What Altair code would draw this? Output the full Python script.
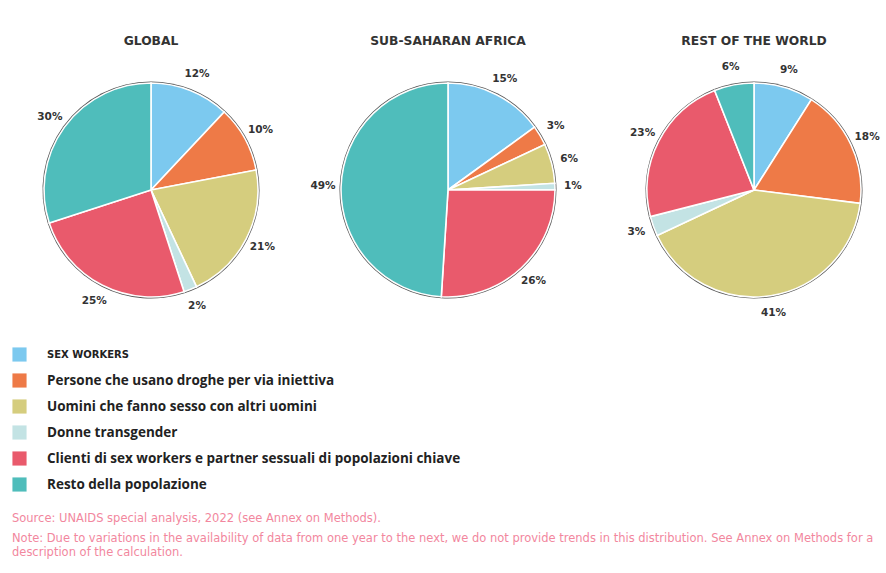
import altair as alt
import pandas as pd

regions = ["GLOBAL", "SUB-SAHARAN AFRICA", "REST OF THE WORLD"]
categories = [
    "SEX WORKERS",
    "Persone che usano droghe per via iniettiva",
    "Uomini che fanno sesso con altri uomini",
    "Donne transgender",
    "Clienti di sex workers e partner sessuali di popolazioni chiave",
    "Resto della popolazione",
]
colors = ["#7cc9ef", "#ee7a47", "#d5cd7e", "#c3e3e4", "#e95a6c", "#4fbdbb"]
global_vals = [12, 10, 21, 2, 25, 30]
ssa_vals = [15, 3, 6, 1, 26, 49]
row_vals = [9, 18, 41, 3, 23, 6]

source_lines = [
    "Source: UNAIDS special analysis, 2022 (see Annex on Methods).",
    "Note: Due to variations in the availability of data from one year to the next, we do not provide trends in this distribution. See Annex on Methods for a",
    "description of the calculation.",
]

rows = []
for reg, vals in zip(regions, [global_vals, ssa_vals, row_vals]):
    for i, (c, v) in enumerate(zip(categories, vals)):
        rows.append({"region": reg, "category": c, "value": v, "idx": i})
df = pd.DataFrame(rows)

centers_x = [151, 448, 754]
center_y = 190
R = 107

color_scale = alt.Scale(domain=categories, range=colors)
legend = alt.Legend(
    title=None,
    orient="none",
    legendX=12,
    legendY=347,
    symbolType="square",
    symbolSize=200,
    symbolStrokeWidth=0,
    symbolOpacity=1,
    rowPadding=11,
    labelOffset=20,
    labelFont=alt.ExprRef("datum.label === 'SEX WORKERS' ? 'DejaVu Sans' : 'Open Sans'"),
    labelFontSize=alt.ExprRef("datum.label === 'SEX WORKERS' ? 10 : 13.5"),
    labelFontWeight="bold",
    labelColor="#222222",
    labelLimit=600,
)

layers = []
for k, reg in enumerate(regions):
    cx = centers_x[k]
    base = alt.Chart(df).transform_filter(alt.datum.region == reg)
    theta = alt.Theta("value:Q", stack=True)
    order = alt.Order("idx:Q", sort="ascending")
    outline = base.mark_arc(radius=R + 1.5, fill="#555555").encode(
        theta=theta, order=order, x=alt.value(cx), y=alt.value(center_y)
    )
    slices = base.mark_arc(radius=R, stroke="white", strokeWidth=1.6).encode(
        theta=theta,
        order=order,
        color=alt.Color("category:N", scale=color_scale, legend=legend),
        x=alt.value(cx),
        y=alt.value(center_y),
    )
    labels = (
        base.transform_calculate(lab="datum.value + '%'")
        .mark_text(radius=R + 18, font="DejaVu Sans", fontSize=10.5, fontWeight="bold",
                   color="#333333", align="center", baseline="middle")
        .encode(theta=theta, order=order, text="lab:N",
                x=alt.value(cx), y=alt.value(center_y))
    )
    title = (
        alt.Chart(pd.DataFrame({"t": [reg]}))
        .mark_text(font="DejaVu Sans", fontSize=12.3, fontWeight="bold", color="#333333",
                   align="center", baseline="middle")
        .encode(text="t:N", x=alt.value(cx), y=alt.value(41))
    )
    layers += [outline, slices, labels, title]

note_y = [519, 539, 553]
for line, yy in zip(source_lines, note_y):
    layers.append(
        alt.Chart(pd.DataFrame({"t": [line]}))
        .mark_text(font="DejaVu Sans", fontSize=11.5, color="#f2879e", align="left",
                   baseline="middle")
        .encode(text="t:N", x=alt.value(12), y=alt.value(yy))
    )

chart = (
    alt.layer(*layers)
    .properties(width=886, height=573, autosize="none", padding=0, background="white")
    .configure_view(strokeWidth=0)
)

chart.save("out.html", embed_options={"renderer": "svg", "actions": False})
